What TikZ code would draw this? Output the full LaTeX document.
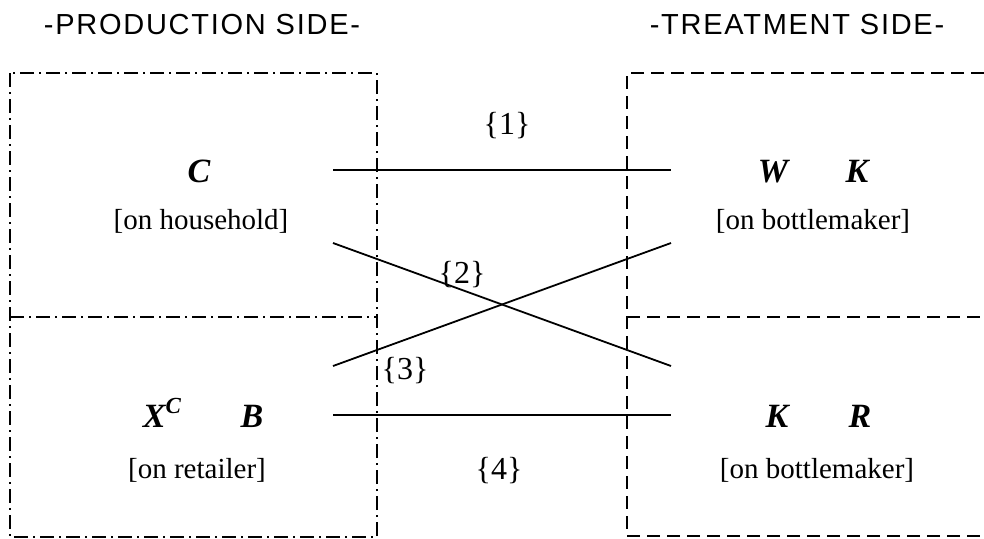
\documentclass[tikz,border=0pt]{standalone}
\usepackage{fontspec}
\setmainfont{Liberation Serif}
\newfontfamily\headfont[LetterSpace=6]{Liberation Sans}
\begin{document}
\begin{tikzpicture}[x=1pt,y=-1pt,
  head/.style={font=\headfont\fontsize{29}{34}\selectfont, inner sep=0pt},
  sym/.style={font=\fontsize{34}{38}\selectfont\bfseries\itshape, inner sep=0pt, anchor=base},
  sub/.style={font=\fontsize{29}{34}\selectfont, inner sep=0pt, anchor=base},
  lab/.style={font=\fontsize{32}{36}\selectfont, inner sep=0pt, anchor=base},
  prodline/.style={line width=1.6pt, dash pattern=on 14pt off 5pt on 2pt off 5pt},
  treatline/.style={line width=1.6pt, dash pattern=on 13pt off 7pt},
  link/.style={line width=1.8pt}]
\useasboundingbox (0,0) rectangle (984,538);
% headers
\node[head] (ph) at (202,25) {-PRODUCTION SIDE-};
\node[head] (th) at (797,25) {-TREATMENT SIDE-};
% production box
\draw[prodline] (10,73) rectangle (377,537);
\draw[prodline] (10,317) -- (377,317);
% treatment box
\draw[treatline] (984,73) -- (627,73) -- (627,536) -- (984,536);
\draw[treatline] (627,317) -- (984,317);
% texts
\node[sym] (c) at (199,182) {C};
\node[sub] (ch) at (201,229) {[on household]};
\node[sym] (w) at (773,182) {W};
\node[sym] (k1) at (857,182) {K};
\node[sub] (tb1) at (813,229) {[on bottlemaker]};
\node[sym] (x) at (162,427) {X\raisebox{0.4em}{\fontsize{23}{23}\selectfont C}};
\node[sym] (b) at (252,427) {B};
\node[sub] (r) at (197,478) {[on retailer]};
\node[sym] (k2) at (777,427) {K};
\node[sym] (rr) at (860,427) {R};
\node[sub] (tb2) at (817,478) {[on bottlemaker]};
% link labels
\node[lab] (l1) at (507,134) {\{1\}};
\node[lab] (l2) at (462,283) {\{2\}};
\node[lab] (l3) at (405,379) {\{3\}};
\node[lab] (l4) at (499,479) {\{4\}};
% link endpoints
\coordinate (a1) at (333,170);
\coordinate (b1) at (671,170);
\coordinate (a2) at (333,243);
\coordinate (b2) at (671,366);
\coordinate (a3) at (333,366);
\coordinate (b3) at (671,243);
\coordinate (a4) at (333,415);
\coordinate (b4) at (671,415);
\draw[link] (a1) -- (b1);
\draw[link] (a2) -- (b2);
\draw[link] (a3) -- (b3);
\draw[link] (a4) -- (b4);
\end{tikzpicture}
\end{document}
